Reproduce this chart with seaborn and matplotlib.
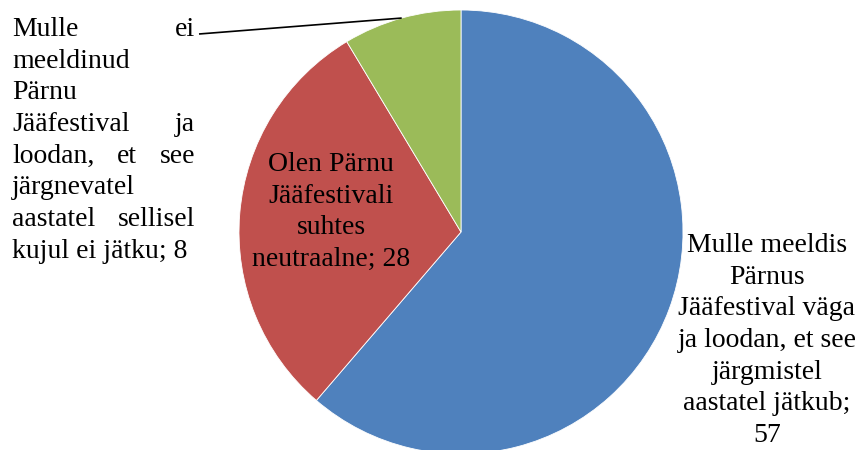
import numpy as np
import matplotlib
matplotlib.use("Agg")
import matplotlib.pyplot as plt
import seaborn as sns

# Data
names = [
    "Mulle meeldis\nPärnus\nJääfestival väga\nja loodan, et see\njärgmistel\naastatel jätkub",
    "Olen Pärnu\nJääfestivali\nsuhtes\nneutraalne",
    "Mulle ei\nmeeldinud\nPärnu\nJääfestival ja\nloodan, et see\njärgnevatel\naastatel sellisel\nkujul ei jätku",
]
values = [57, 28, 8]
value_sep = ["\n", " ", " "]  # how the value joins the wrapped name
colors = ["#4F81BD", "#C0504D", "#9BBB59"]

sns.set_theme(style="white")
plt.rcParams["font.family"] = ["Liberation Serif", "DejaVu Serif"]

W, H = 861, 450
FS = 20
STEP = 31.7

fig = plt.figure(figsize=(W / 100, H / 100), dpi=100, facecolor="white")
ax = fig.add_axes([0, 0, 1, 1])

wedges, _ = ax.pie(values, colors=colors, startangle=90, counterclock=False,
                   center=(461, H - 232), radius=222,
                   wedgeprops={"edgecolor": "white", "linewidth": 0.6})
ax.set_xlim(0, W)
ax.set_ylim(0, H)
ax.set_aspect("auto")
ax.axis("off")

renderer = fig.canvas.get_renderer()


def draw_lines(text, x, y_top, ha="center", justify_to=None):
    lines = text.split("\n")
    for i, line in enumerate(lines):
        y = H - (y_top + i * STEP)
        words = line.split(" ")
        if justify_to is None or len(words) == 1 or i == len(lines) - 1:
            ax.text(x, y, line, ha=ha, va="baseline", fontsize=FS, color="black")
            continue
        arts = [ax.text(0, y, w, ha="left", va="baseline", fontsize=FS, color="black") for w in words]
        widths = [a.get_window_extent(renderer).width for a in arts]
        gap = (justify_to - x - sum(widths)) / (len(words) - 1)
        xx = x
        for a, w in zip(arts, widths):
            a.set_x(xx)
            xx += w + gap


labels = [f"{n};{s}{v}" for n, v, s in zip(names, values, value_sep)]

# Blue slice label (outside, right)
draw_lines(labels[0], 767, 252)
# Red slice label (inside)
draw_lines(labels[1], 331, 171)
# Green slice label (outside, left, justified) with leader line
draw_lines(labels[2], 12, 36, ha="left", justify_to=195)

g = wedges[2]
mid = np.deg2rad((g.theta1 + g.theta2) / 2)
ex = g.center[0] + g.r * np.cos(mid)
ey = g.center[1] + g.r * np.sin(mid)
ax.plot([199, ex], [H - 34, ey], color="black", lw=1.2, solid_capstyle="butt")

fig.savefig("out.png", dpi=100, facecolor="white")
plt.close(fig)
